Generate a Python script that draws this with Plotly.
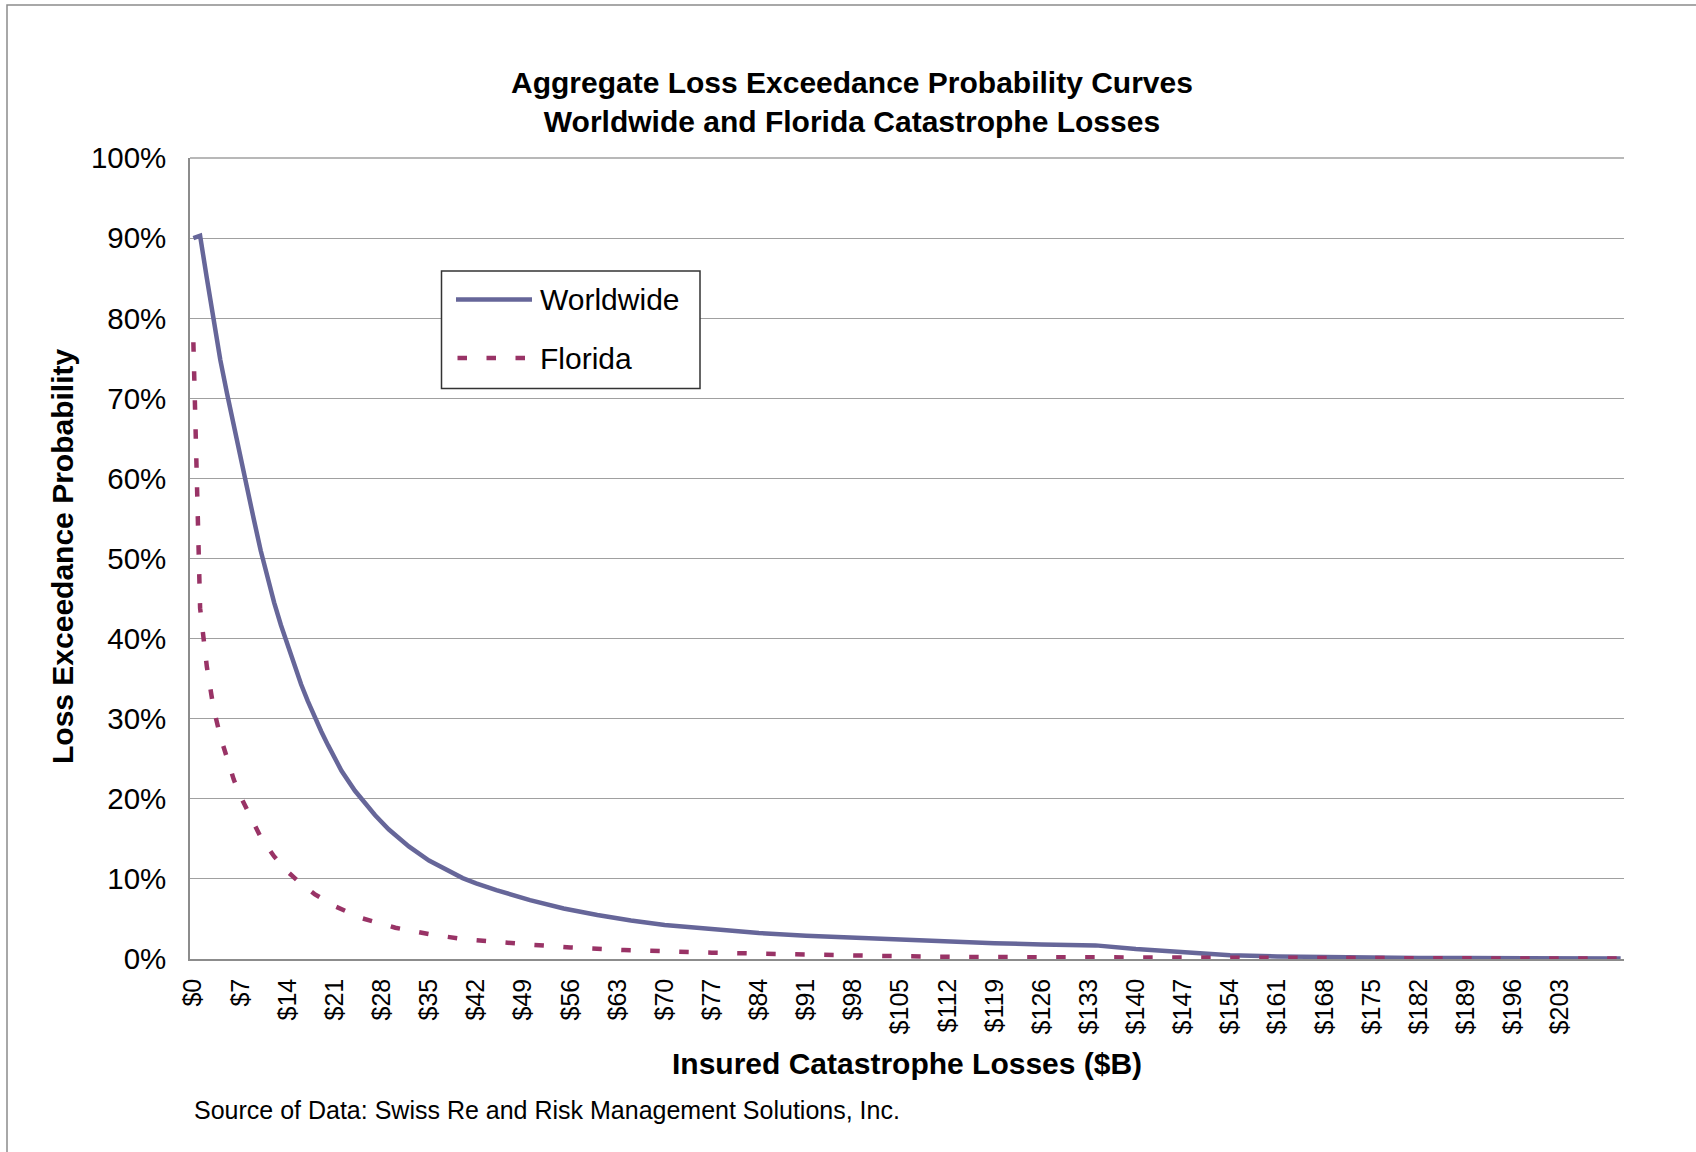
import plotly.graph_objects as go

# ---------------- data ----------------
worldwide_loss = [0, 1, 2, 3, 4, 5, 6, 7, 8, 9, 10, 11, 12, 13, 14, 15, 16, 17, 18, 19, 20, 21, 22,
                  24, 25, 27, 29, 32, 35, 38, 40, 42, 45, 50, 55, 60, 65, 70,
                  77, 84, 91, 98, 105, 112, 119, 126, 133,
                  134, 140, 147, 154, 161, 168, 175, 182, 189, 196, 203, 212]
worldwide_prob = [90.0, 90.3, 85.0, 79.5, 74.8, 70.6, 66.5, 62.5, 58.6, 54.8, 51.0, 47.6, 44.5, 41.7, 39.2, 36.7, 34.3, 32.2, 30.2, 28.4, 26.7, 25.0, 23.5,
                  21.0, 20.0, 17.95, 16.2, 14.05, 12.3, 10.9, 10.1, 9.45, 8.6, 7.35, 6.3, 5.5, 4.8, 4.25,
                  3.7, 3.25, 2.9, 2.65, 2.4, 2.15, 1.98, 1.82, 1.72,
                  1.70, 1.25, 0.82, 0.48, 0.32, 0.22, 0.18, 0.14, 0.11, 0.09, 0.07, 0.05]

florida_loss = [0, 1, 2, 3, 4, 5, 6, 7, 8, 9, 10,
                12, 14, 16, 18, 21, 25, 30, 35, 40, 45, 50, 56, 64, 77, 90, 103, 116, 129, 140, 150, 165, 180, 196, 212]
florida_prob = [77.0, 43.8, 36.5, 31.3, 27.8, 24.9, 22.4, 20.3, 18.5, 16.8, 15.2,
                12.8, 10.9, 9.4, 8.1, 6.6, 5.1, 3.9, 3.1, 2.5, 2.1, 1.8, 1.45, 1.12, 0.79, 0.54, 0.37, 0.25, 0.2, 0.15, 0.12, 0.1, 0.08, 0.07, 0.06]

x_tick_vals = [0, 7, 14, 21, 28, 35, 42, 49, 56, 63, 70, 77, 84, 91, 98, 105, 112, 119,
               126, 133, 140, 147, 154, 161, 168, 175, 182, 189, 196, 203]
x_tick_text = ["$" + str(v) for v in x_tick_vals]
y_tick_vals = [0, 10, 20, 30, 40, 50, 60, 70, 80, 90, 100]

series_names = ["Worldwide", "Florida"]
series_colors = ["#666699", "#993366"]

title_lines = ["Aggregate Loss Exceedance Probability Curves",
               "Worldwide and Florida Catastrophe Losses"]
x_title = "Insured Catastrophe Losses ($B)"
y_title = "Loss Exceedance Probability"
source_text = "Source of Data: Swiss Re and Risk Management Solutions, Inc."

# ---------------- layout geometry (pixels) ----------------
W_PX, H_PX = 1696, 1152
L, R, T, B = 190, 72, 158, 193
PW = W_PX - L - R
PH = H_PX - T - B


def X(px):
    return (px - L) / PW


def Y(py):
    return (H_PX - B - py) / PH


FONT = "Liberation Sans, Arial, sans-serif"
GRID = "#a0a0a0"

fig = go.Figure()
fig.add_trace(go.Scatter(x=worldwide_loss, y=worldwide_prob, mode="lines",
                         name=series_names[0],
                         line=dict(color=series_colors[0], width=4.5)))
fig.add_trace(go.Scatter(x=florida_loss, y=florida_prob, mode="lines",
                         name=series_names[1],
                         line=dict(color=series_colors[1], width=4.5, dash="9.5px,19.5px")))

shapes = [
    # outer chart border
    dict(type="rect", xref="paper", yref="paper",
         x0=X(7), x1=X(1730), y0=Y(1190), y1=Y(5),
         line=dict(color="#8c8c8c", width=1.5), layer="below"),
    # top (100%) gridline
    dict(type="line", xref="paper", yref="paper", x0=0, x1=1, y0=1, y1=1,
         line=dict(color=GRID, width=1.3), layer="below"),
    # legend box
    dict(type="rect", xref="paper", yref="paper",
         x0=X(441.5), x1=X(700), y0=Y(388.5), y1=Y(271),
         line=dict(color="#333333", width=1.5), fillcolor="white"),
    dict(type="line", xref="paper", yref="paper",
         x0=X(456), x1=X(532), y0=Y(299.6), y1=Y(299.6),
         line=dict(color=series_colors[0], width=4.5)),
    dict(type="line", xref="paper", yref="paper",
         x0=X(457.5), x1=X(526), y0=Y(358), y1=Y(358),
         line=dict(color=series_colors[1], width=4.5, dash="9.5px,19.5px")),
]

annotations = [
    dict(text="<b>" + title_lines[0] + "</b><br><b>" + title_lines[1] + "</b>",
         xref="paper", yref="paper", x=X(852), y=Y(102), xanchor="center", yanchor="middle",
         showarrow=False, font=dict(family=FONT, size=30, color="black")),
    dict(text="<b>" + x_title + "</b>", xref="paper", yref="paper",
         x=X(907), y=Y(1063), xanchor="center", yanchor="middle",
         showarrow=False, font=dict(family=FONT, size=30, color="black")),
    dict(text="<b>" + y_title + "</b>", xref="paper", yref="paper",
         x=X(62), y=Y(557), xanchor="center", yanchor="middle", textangle=-90,
         showarrow=False, font=dict(family=FONT, size=30, color="black")),
    dict(text=source_text, xref="paper", yref="paper",
         x=X(192), y=Y(1110), xanchor="left", yanchor="middle",
         showarrow=False, font=dict(family=FONT, size=25, color="black")),
    dict(text=series_names[0], xref="paper", yref="paper",
         x=X(538), y=Y(299.6), xanchor="left", yanchor="middle",
         showarrow=False, font=dict(family=FONT, size=30, color="black")),
    dict(text=series_names[1], xref="paper", yref="paper",
         x=X(538), y=Y(358), xanchor="left", yanchor="middle",
         showarrow=False, font=dict(family=FONT, size=30, color="black")),
]

fig.update_layout(
    template="none",
    width=W_PX, height=H_PX,
    margin=dict(l=L, r=R, t=T, b=B, autoexpand=False),
    paper_bgcolor="white", plot_bgcolor="white",
    showlegend=False,
    font=dict(family=FONT, color="black"),
    shapes=shapes,
    annotations=annotations,
    xaxis=dict(range=[-0.5, 212.5], tickmode="array", tickvals=x_tick_vals, ticktext=x_tick_text,
               tickangle=-90, tickfont=dict(family=FONT, size=25, color="black"),
               showgrid=False, zeroline=False, showline=True, linecolor="#8c8c8c", linewidth=1.5,
               ticks="", ticklabelstandoff=8, automargin=False),
    yaxis=dict(range=[0, 100], tickmode="array", tickvals=y_tick_vals,
               ticktext=[str(v) + "%" for v in y_tick_vals],
               tickfont=dict(family=FONT, size=29.5, color="black"),
               showgrid=True, gridcolor=GRID, gridwidth=1.3,
               zeroline=False, showline=True, linecolor="#8c8c8c", linewidth=1.5,
               ticks="", ticklabelstandoff=16, automargin=False),
)

fig.write_html("out.html")
